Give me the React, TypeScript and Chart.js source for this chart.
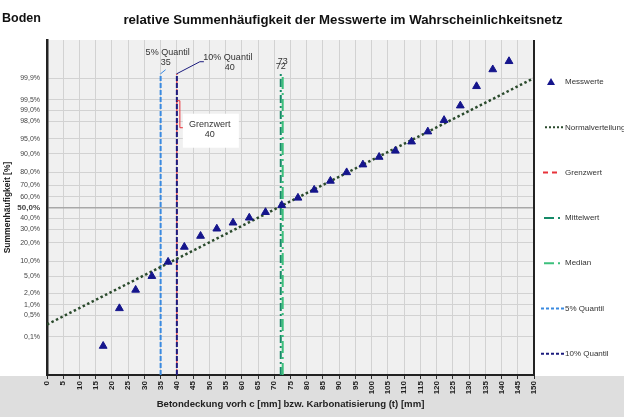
import React, { useEffect, useRef } from "react";
import { Chart, registerables } from "chart.js";

Chart.register(...registerables);

// ---- data ----
const messX = [17.3, 22.3, 27.3, 32.3, 37.3, 42.3, 47.3, 52.3, 57.3, 62.3, 67.3, 72.3, 77.3, 82.3, 87.3, 92.3, 97.3, 102.3, 107.3, 112.3, 117.3, 122.3, 127.3, 132.3, 137.3, 142.3];
const messPercent = [0.047, 0.8, 2.45, 5.05, 9.7, 17.3, 24.8, 30.6, 35.8, 40.3, 45.5, 52.2, 59.1, 66.3, 73.7, 79.9, 84.7, 88.6, 91.2, 94.2, 96.5, 98.15, 99.25, 99.81, 99.951, 99.976];
const normalX = [0, 150];
const normalPercent = [0.26, 99.9];
const yTickPercents = [0.1, 0.5, 1, 2, 5, 10, 20, 30, 40, 50, 60, 70, 80, 90, 95, 98, 99, 99.5, 99.9];
const grenzwert = 40;
const quantil5 = 35;
const quantil10 = 40;
const mittelwert = 72;
const median = 72.6;
const lineTopPercent = 99.93;
const legendNames = ["Messwerte", "Normalverteilung", "Grenzwert", "Mittelwert", "Median", "5% Quantil", "10% Quantil"];

const FONT = "'Liberation Sans', Arial, sans-serif";

function probit(p: number): number {
  const a = [-3.969683028665376e1, 2.209460984245205e2, -2.759285104469687e2, 1.38357751867269e2, -3.066479806614716e1, 2.506628277459239];
  const b = [-5.447609879822406e1, 1.615858368580409e2, -1.556989798598866e2, 6.680131188771972e1, -1.328068155288572e1];
  const c = [-7.784894002430293e-3, -3.223964580411365e-1, -2.400758277161838, -2.549732539343734, 4.374664141464968, 2.938163982698783];
  const d = [7.784695709041462e-3, 3.224671290700398e-1, 2.445134137142996, 3.754408661907416];
  const pl = 0.02425;
  if (p < pl) {
    const q = Math.sqrt(-2 * Math.log(p));
    return (((((c[0] * q + c[1]) * q + c[2]) * q + c[3]) * q + c[4]) * q + c[5]) / ((((d[0] * q + d[1]) * q + d[2]) * q + d[3]) * q + 1);
  }
  if (p > 1 - pl) {
    const q = Math.sqrt(-2 * Math.log(1 - p));
    return -(((((c[0] * q + c[1]) * q + c[2]) * q + c[3]) * q + c[4]) * q + c[5]) / ((((d[0] * q + d[1]) * q + d[2]) * q + d[3]) * q + 1);
  }
  const q = p - 0.5;
  const r = q * q;
  return ((((((a[0] * r + a[1]) * r + a[2]) * r + a[3]) * r + a[4]) * r + a[5]) * q) / (((((b[0] * r + b[1]) * r + b[2]) * r + b[3]) * r + b[4]) * r + 1);
}
const z = (pct: number) => probit(pct / 100);
const fmtPct = (p: number) => p.toFixed(1).replace(".", ",") + "%";

const COL = {
  mess: "#15158c",
  normal: "#2a4a2c",
  grenz: "#e8333a",
  mittel: "#168a68",
  median: "#3cc07c",
  q5: "#3a8ae0",
  q10: "#1c1c7e",
};

const Z_MIN = -4;
const Z_MAX = 4;

function vLine(x: number, label: string, color: string, dash: number[], width: number, order = 2) {
  return {
    label,
    data: [
      { x, y: Z_MIN },
      { x, y: z(lineTopPercent) },
    ],
    showLine: true,
    borderColor: color,
    backgroundColor: color,
    borderDash: dash,
    borderWidth: width,
    pointRadius: 0,
    order,
  };
}

const deco = {
  id: "deco",
  beforeDraw(chart: any) {
    const { ctx, chartArea: a, width, height } = chart;
    ctx.save();
    ctx.fillStyle = "#ffffff";
    ctx.fillRect(0, 0, width, height);
    ctx.fillStyle = "#dedede";
    ctx.fillRect(0, a.bottom + 1, width, height - a.bottom);
    ctx.fillStyle = "#f0f0f0";
    ctx.fillRect(a.left, a.top, a.right - a.left, a.bottom - a.top);
    ctx.restore();
  },
  afterDatasetsDraw(chart: any) {
    const { ctx, chartArea: a, scales } = chart;
    const xs = scales.x;
    const ys = scales.y;
    const yTop = ys.getPixelForValue(z(lineTopPercent));
    ctx.save();
    // right border
    ctx.strokeStyle = "#222";
    ctx.lineWidth = 2;
    ctx.beginPath();
    ctx.moveTo(a.right, a.top);
    ctx.lineTo(a.right, a.bottom + 1);
    ctx.stroke();

    ctx.font = `9px ${FONT}`;
    ctx.textAlign = "center";
    ctx.textBaseline = "middle";
    ctx.fillStyle = "#333";

    // 5% Quantil label
    const x5 = xs.getPixelForValue(quantil5);
    ctx.strokeStyle = COL.q5;
    ctx.lineWidth = 1;
    ctx.beginPath();
    ctx.moveTo(x5, yTop);
    ctx.lineTo(x5 + 5, yTop - 4);
    ctx.stroke();
    ctx.fillText("5% Quantil", x5 + 7, yTop - 21);
    ctx.fillText(String(quantil5), x5 + 5, yTop - 11);

    // 10% Quantil label
    const x10 = xs.getPixelForValue(quantil10);
    ctx.strokeStyle = COL.q10;
    ctx.beginPath();
    ctx.moveTo(x10, yTop);
    ctx.lineTo(x10 + 23, yTop - 12);
    ctx.lineTo(x10 + 27, yTop - 12);
    ctx.stroke();
    ctx.fillText("10% Quantil", x10 + 51, yTop - 16);
    ctx.fillText(String(quantil10), x10 + 53, yTop - 6);

    // Grenzwert label
    const xg = xs.getPixelForValue(grenzwert);
    ctx.fillStyle = "#ffffff";
    ctx.fillRect(xg + 6, yTop + 40, 56, 34);
    ctx.strokeStyle = COL.grenz;
    ctx.beginPath();
    ctx.moveTo(xg, yTop + 27);
    ctx.lineTo(xg + 3, yTop + 27);
    ctx.lineTo(xg + 3, yTop + 54);
    ctx.lineTo(xg + 6, yTop + 54);
    ctx.stroke();
    ctx.fillStyle = "#333";
    ctx.fillText("Grenzwert", xg + 33, yTop + 51);
    ctx.fillText(String(grenzwert), xg + 33, yTop + 61);

    // Mittelwert / Median labels
    const xm = xs.getPixelForValue(mittelwert);
    const xmed = xs.getPixelForValue(median);
    ctx.fillText(String(Math.round(median)), xmed, yTop - 12);
    ctx.fillText(String(Math.round(mittelwert)), xm, yTop - 7);
    ctx.restore();
  },
  afterDraw(chart: any) {
    const { ctx, chartArea: a } = chart;
    ctx.save();
    // titles
    ctx.fillStyle = "#111";
    ctx.textBaseline = "middle";
    ctx.textAlign = "left";
    ctx.font = `bold 12.5px ${FONT}`;
    ctx.fillText("Boden", 2, 19);
    ctx.textAlign = "center";
    ctx.font = `bold 13.2px ${FONT}`;
    ctx.fillText("relative Summenhäufigkeit der Messwerte im Wahrscheinlichkeitsnetz", 343, 20);

    // legend
    const lx = a.right + 7;
    const tx = a.right + 31;
    const y0 = a.top + 42;
    const step = 45.3;
    ctx.font = `8px ${FONT}`;
    ctx.textAlign = "left";
    legendNames.forEach((name, i) => {
      const y = y0 + i * step;
      ctx.fillStyle = "#333";
      ctx.fillText(name, tx, y);
      ctx.setLineDash([]);
      if (i === 0) {
        ctx.fillStyle = COL.mess;
        ctx.beginPath();
        ctx.moveTo(lx + 10, y - 4);
        ctx.lineTo(lx + 14, y + 3);
        ctx.lineTo(lx + 6, y + 3);
        ctx.closePath();
        ctx.fill();
        return;
      }
      ctx.lineWidth = 2;
      let color = COL.normal;
      let dash = [2, 2];
      let x1 = lx + 4;
      let x2 = lx + 23;
      if (i === 2) { color = COL.grenz; dash = [5, 4]; x1 = lx + 2; x2 = lx + 17; }
      if (i === 3) { color = COL.mittel; dash = [10, 4, 2, 4]; x1 = lx + 3; x2 = lx + 20; }
      if (i === 4) { color = COL.median; dash = [10, 4, 2, 4]; x1 = lx + 3; x2 = lx + 20; }
      if (i === 5) { color = COL.q5; dash = [3, 2]; x1 = lx; x2 = lx + 23; }
      if (i === 6) { color = COL.q10; dash = [3, 2]; x1 = lx; x2 = lx + 23; }
      ctx.strokeStyle = color;
      ctx.setLineDash(dash);
      ctx.beginPath();
      ctx.moveTo(x1, y);
      ctx.lineTo(x2, y);
      ctx.stroke();
    });
    ctx.restore();
  },
};

export default function App() {
  const ref = useRef<HTMLCanvasElement | null>(null);
  useEffect(() => {
    if (!ref.current) return;
    const chart = new Chart(ref.current, {
      type: "scatter",
      data: {
        datasets: [
          {
            label: "Messwerte",
            data: messX.map((x, i) => ({ x, y: z(messPercent[i]) })),
            pointStyle: "triangle",
            pointRadius: 4.5,
            backgroundColor: COL.mess,
            borderColor: COL.mess,
            borderWidth: 1,
            order: 0,
          },
          {
            label: "Normalverteilung",
            data: normalX.map((x, i) => ({ x, y: z(normalPercent[i]) })),
            showLine: true,
            borderColor: COL.normal,
            borderDash: [2.5, 2.5],
            borderWidth: 2.5,
            pointRadius: 0,
            order: 1,
          },
          vLine(quantil5, "5% Quantil", COL.q5, [5, 2], 2),
          vLine(quantil10, "10% Quantil", COL.q10, [5, 2], 2),
          vLine(grenzwert, "Grenzwert", COL.grenz, [6, 4], 1.2),
          vLine(median, "Median", COL.median, [12, 4, 2, 4], 2),
          vLine(mittelwert, "Mittelwert", COL.mittel, [8, 3, 2, 3], 2),
        ] as any,
      },
      options: {
        animation: false,
        responsive: false,
        devicePixelRatio: 1,
        layout: { padding: { top: 40, right: 90, left: 0, bottom: 0 } },
        plugins: { legend: { display: false }, tooltip: { enabled: false }, title: { display: false } },
        scales: {
          x: {
            type: "linear",
            min: 0,
            max: 150,
            afterFit: (s: any) => { s.height = 42; },
            ticks: {
              stepSize: 5,
              autoSkip: false,
              minRotation: 90,
              maxRotation: 90,
              padding: 2,
              color: "#222",
              font: { family: FONT, size: 8, weight: "bold" },
            },
            grid: { color: "#d2d2d2", tickColor: "#333", tickLength: 4, lineWidth: 1 },
            border: { color: "#222", width: 2 },
            title: {
              display: true,
              text: "Betondeckung vorh c [mm] bzw. Karbonatisierung (t) [mm]",
              color: "#222",
              font: { family: FONT, size: 9.6, weight: "bold" },
              padding: { top: 2, bottom: 7 },
            },
          },
          y: {
            type: "linear",
            min: Z_MIN,
            max: Z_MAX,
            afterFit: (s: any) => { s.width = 47; },
            afterBuildTicks: (s: any) => {
              s.ticks = yTickPercents.map((p) => ({ value: z(p) }));
            },
            ticks: {
              autoSkip: false,
              padding: 7,
              color: "#444",
              callback: (_v: any, i: number) => fmtPct(yTickPercents[i]),
              font: (c: any) =>
                c.tick && Math.abs(c.tick.value) < 1e-9
                  ? { family: FONT, size: 8, weight: "bold" }
                  : { family: FONT, size: 7 },
            },
            grid: {
              drawTicks: false,
              color: (c: any) => (c.tick && Math.abs(c.tick.value) < 1e-9 ? "#a8a8a8" : "#d2d2d2"),
              lineWidth: (c: any) => (c.tick && Math.abs(c.tick.value) < 1e-9 ? 1.5 : 1),
            },
            border: { color: "#222", width: 2.5 },
            title: {
              display: true,
              text: "Summenhäufigkeit [%]",
              color: "#222",
              font: { family: FONT, size: 8.5, weight: "bold" },
              padding: { top: 3, bottom: 0 },
            },
          },
        },
      } as any,
      plugins: [deco],
    });
    return () => chart.destroy();
  }, []);
  return (
    <div style={{ position: "absolute", left: 0, top: 0, width: 624, height: 417 }}>
      <canvas ref={ref} width={624} height={417} />
    </div>
  );
}
